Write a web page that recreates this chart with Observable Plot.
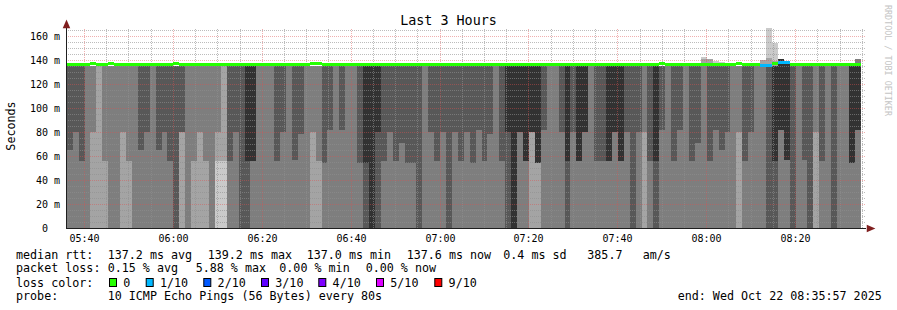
<!DOCTYPE html>
<html><head><meta charset="utf-8">
<script src="https://cdn.jsdelivr.net/npm/d3@7"></script>
<script src="https://cdn.jsdelivr.net/npm/@observablehq/plot@0.6"></script>
<style>
body{margin:0;background:#fff;}
#wrap{width:897px;height:310px;overflow:hidden;}
</style></head><body><div id="wrap"></div><script>
// ---- data ----
const title = "Last 3 Hours";
const startTime = Date.UTC(2025, 9, 22, 5, 35, 57);
const endTime = Date.UTC(2025, 9, 22, 8, 35, 57);
const firstBinStart = Date.UTC(2025, 9, 22, 5, 36, 7);
const stepSeconds = 80;
const xTickLabels = ["05:40","06:00","06:20","06:40","07:00","07:20","07:40","08:00","08:20"];
const yTickValues = [0,20,40,60,80,100,120,140,160];
const smokeColors = ["#cacaca","#a4a4a4","#7e7e7e","#585858","#323232"];
const lossLevels = [0,1,2,3,4,5,9];
const lossColors = ["#26ff00","#00b8ff","#0059ff","#5e00ff","#7e00ff","#dd00ff","#ff0000"];
const lossLabels = ["0","1/10","2/10","3/10","4/10","5/10","9/10"];
// five lowest ping values (ms) per 80 s bin
const lowPings = [
[0,0,0,65,135],[0,0,0,80,135],[0,0,0,56,135],[0,0,0,135,135],[0,0,80,135,135],[0,0,135,135,135],[0,0,56,135,135],[0,0,0,135,135],[0,0,0,135,135],[0,0,80,135,135],
[0,0,56,135,135],[0,0,0,135,135],[0,0,0,65,135],[0,0,0,80,135],[0,0,0,135,135],[0,0,0,65,135],[0,0,0,80,135],[0,0,0,56,135],[0,0,0,0,135],[0,0,80,80,135],
[0,0,0,135,135],[0,0,56,135,135],[0,0,80,135,135],[0,0,56,135,135],[0,0,0,135,135],[0,56,80,135,135],[0,56,135,135,135],[0,0,0,56,135],[0,0,0,80,135],[0,0,0,0,135],
[0,0,0,0,56],[0,0,0,56,56],[0,0,0,135,135],[0,0,0,135,135],[0,0,0,135,135],[0,0,0,56,135],[0,0,0,80,135],[0,0,0,135,135],[0,0,0,57,135],[0,0,0,78,135],
[0,0,0,135,135],[0,0,80,135,135],[0,0,56,135,135],[0,0,0,54,135],[0,0,0,82,135],[0,0,0,135,135],[0,0,0,82,135],[0,0,0,135,135],[0,0,0,135,135],[0,0,0,54,135],
[0,0,0,0,54],[0,0,0,0,0],[0,0,0,0,80],[0,0,0,56,135],[0,0,0,80,135],[0,0,0,56,135],[0,0,0,71,135],[0,0,0,54,135],[0,0,0,54,135],[0,0,0,0,135],
[0,0,0,135,135],[0,0,0,80,135],[0,0,0,56,135],[0,0,0,80,135],[0,0,0,0,135],[0,0,0,80,135],[0,0,0,56,135],[0,0,0,80,135],[0,0,0,54,135],[0,0,0,82,135],
[0,0,0,56,135],[0,0,0,78,135],[0,0,0,135,135],[0,0,0,56,135],[0,0,0,0,80],[0,0,0,0,0],[0,0,0,80,80],[0,0,0,56,56],[0,0,80,80,80],[0,0,54,54,54],
[0,0,0,82,135],[0,0,0,135,135],[0,0,0,135,135],[0,0,0,80,135],[0,0,0,0,56],[0,0,0,80,135],[0,0,0,56,56],[0,0,0,80,80],[0,0,0,135,135],[0,0,0,56,135],
[0,0,0,56,135],[0,0,0,56,56],[0,0,0,80,80],[0,0,0,56,56],[0,0,0,80,135],[0,0,0,0,135],[0,0,0,80,135],[0,0,80,135,135],[0,0,0,56,135],[0,0,0,0,56],
[0,0,0,82,135],[0,0,0,135,135],[0,0,0,56,135],[0,0,0,82,135],[0,0,0,135,135],[0,0,0,56,135],[0,0,0,71,135],[0,0,0,135,135],[0,0,0,56,135],[0,0,0,82,135],
[0,0,0,65,135],[0,0,0,80,135],[0,0,0,135,135],[0,0,80,135,135],[0,0,0,56,135],[0,0,0,80,135],[0,0,0,135,135],[0,0,0,135,135],[0,0,0,0,135],[0,0,0,0,56],
[0,0,0,82,82],[0,0,0,57,57],[0,0,0,0,135],[0,0,0,135,135],[0,0,0,57,135],[0,0,0,0,135],[0,0,80,135,135],[0,0,0,56,135],[0,0,0,135,135],[0,0,0,0,135],
[0,0,0,135,135],[0,0,0,135,135],[0,0,0,54,54],[0,0,0,82,82]
];
// five highest ping values: common level, plus the bins that rose above it
const highPingLevel = 135;
const highPingBins = [107,108,109,110,117,118,119,120,121,133];
const highPingValues = [
[135,135,135,140.5,142.5],[135,135,135,140.5,140.5],[135,135,135,135,139.4],[135,135,135,135,138.6],
[135,135,135,139.7,139.7],[135,135,135,142,166.7],[135,135,135,139,154],
[141,141,141,141,141],[139.5,139.5,139.5,139.5,139.5],[135,135,140.5,140.5,140.5]
];
const medianLevel = 136.4;
const medianBins = [4,7,18,41,42,100,113,117,118,119,120,121];
const medianValues = [137.2,137.2,137.2,137.2,137.2,137.2,137.2,136.2,136.2,137.6,138.0,138.0];
const lossBins = [117,118,120,121];
const lossBinValues = [1,1,1,1];

// ---- build rows ----
const bins = lowPings.map((lo, i) => {
  const hj = highPingBins.indexOf(i);
  const hi = hj >= 0 ? highPingValues[hj] : [highPingLevel,highPingLevel,highPingLevel,highPingLevel,highPingLevel];
  const mj = medianBins.indexOf(i);
  const lj = lossBins.indexOf(i);
  const loss = lj >= 0 ? lossBinValues[lj] : 0;
  return {
    t1: new Date(firstBinStart + i*stepSeconds*1000),
    t2: new Date(firstBinStart + (i+1)*stepSeconds*1000),
    p: [...lo, ...hi],
    median: mj >= 0 ? medianValues[mj] : medianLevel,
    color: lossColors[lossLevels.indexOf(loss)]
  };
});
const tickDate = s => new Date(Date.UTC(2025, 9, 22, +s.slice(0,2), +s.slice(3,5)));
const xTicks = xTickLabels.map(tickDate);
const minorX = d3.utcMinute.every(5).range(new Date(startTime), new Date(endTime)).filter(d => d.getUTCMinutes() % 20 !== 0);
const majorX = xTicks;
const minorY = d3.range(5, 166, 5).filter(v => v % 20 !== 0);
const majorY = yTickValues.filter(v => v > 0);
const yTop = 166.67;

const rightTri = {draw(ctx, size){ const r = Math.sqrt(size/2); ctx.moveTo(r*1.3,0); ctx.lineTo(-r,-r); ctx.lineTo(-r,r); ctx.closePath(); }};
const upTri = {draw(ctx, size){ const r = Math.sqrt(size/2); ctx.moveTo(0,-r*1.3); ctx.lineTo(r,r); ctx.lineTo(-r,r); ctx.closePath(); }};
const gridMinor = {stroke: "rgb(143,143,143)", strokeOpacity: 0.6, strokeDasharray: "1,1", shapeRendering: "crispEdges"};
const gridMajor = {stroke: "rgb(222,79,79)", strokeOpacity: 0.45, strokeDasharray: "1,1", shapeRendering: "crispEdges"};

const chart = Plot.plot({
  width: 897, height: 310,
  marginLeft: 66, marginRight: 31, marginTop: 28, marginBottom: 82,
  style: {fontFamily: "DejaVu Sans Mono", fontSize: "10px", background: "#fff", color: "#000", overflow: "visible"},
  x: {type: "utc", round: true, domain: [new Date(startTime), new Date(endTime)], ticks: xTicks, tickFormat: d3.utcFormat("%H:%M"), tickSize: 0, tickPadding: 6, label: null},
  y: {round: true, domain: [0, yTop], ticks: yTickValues, tickFormat: d => d === 0 ? "0\u00a0\u00a0" : d + "\u00a0m", tickSize: 0, tickPadding: 6.5, label: null},
  color: {type: "identity"},
  marks: [
    ...smokeColors.map((c, i) => Plot.rect(bins, {x1: "t1", x2: "t2", y1: d => d.p[i], y2: d => d.p[9-i], fill: c, shapeRendering: "crispEdges"})),
    Plot.ruleY(minorY, gridMinor),
    Plot.ruleX(minorX, {y1: 0, y2: yTop, ...gridMinor}),
    Plot.ruleY(majorY, gridMajor),
    Plot.ruleX(majorX, {y1: 0, y2: yTop, ...gridMajor}),
    Plot.ruleY(bins, {x1: "t1", x2: "t2", y: "median", stroke: "color", strokeWidth: 3}),
    Plot.ruleY([0], {stroke: "#1f1f1f", strokeWidth: 1, shapeRendering: "crispEdges"}),
    Plot.ruleX([new Date(startTime)], {y1: 0, y2: yTop, stroke: "#1f1f1f", strokeWidth: 1, shapeRendering: "crispEdges"}),
    Plot.dot([new Date(endTime)], {x: d => d, y: () => 0, symbol: rightTri, r: 3, fill: "#801f1f", stroke: null, dx: 4}),
    Plot.dot([new Date(startTime)], {x: d => d, y: () => yTop, symbol: upTri, r: 3, fill: "#801f1f", stroke: null, dy: -4})
  ]
});
document.getElementById("wrap").appendChild(chart);

// ---- texts: title, axis label, legend, credit ----
const svg = d3.select(chart);
const g = svg.append("g").attr("font-family", "DejaVu Sans Mono").attr("fill", "#000").attr("text-anchor", "start");
g.append("text").attr("x", 448.5).attr("y", 25).attr("text-anchor", "middle").attr("font-size", 13.4).text(title);
g.append("text").attr("transform", "translate(15,126) rotate(-90)").attr("text-anchor", "middle").attr("font-size", 11.7).text("Seconds");
g.append("text").attr("transform", "translate(885,5) rotate(90)").attr("text-anchor", "start").attr("font-size", 8.4).attr("fill", "#c4c4c4").text("RRDTOOL / TOBI OETIKER");
const fs = 11.7;
const line = (x, y, s) => g.append("text").attr("x", x).attr("y", y).attr("text-anchor", "start").attr("font-size", fs).style("white-space", "pre").text(s);
const rows = [
  [258.5, [[16,"median rtt:"],[107.7,"137.2 ms avg"],[207.7,"139.2 ms max"],[306.7,"137.0 ms min"],[406.7,"137.6 ms now"],[503.3,"0.4 ms sd"],[587.3,"385.7"],[642.7,"am/s"]]],
  [272.3, [[16,"packet loss:"],[107.7,"0.15 % avg"],[195.7,"5.88 % max"],[279.3,"0.00 % min"],[365.7,"0.00 % now"]]],
  [286.5, [[16,"loss color:"]]],
  [300.3, [[16,"probe:"],[107.7,"10 ICMP Echo Pings (56 Bytes) every 80s"],[677.7,"end: Wed Oct 22 08:35:57 2025"]]]
];
rows.forEach(([y, items]) => items.forEach(([x, s]) => line(x, y, s)));
const boxX = [109, 145.7, 203.3, 261, 318.3, 376, 434.3];
lossColors.forEach((c, i) => {
  g.append("rect").attr("x", boxX[i] + 0.5).attr("y", 278.5).attr("width", 7).attr("height", 8).attr("fill", c).attr("stroke", "#000").attr("stroke-width", 1);
  line(boxX[i] + 14.3, 286.5, lossLabels[i]);
});
</script></body></html>
